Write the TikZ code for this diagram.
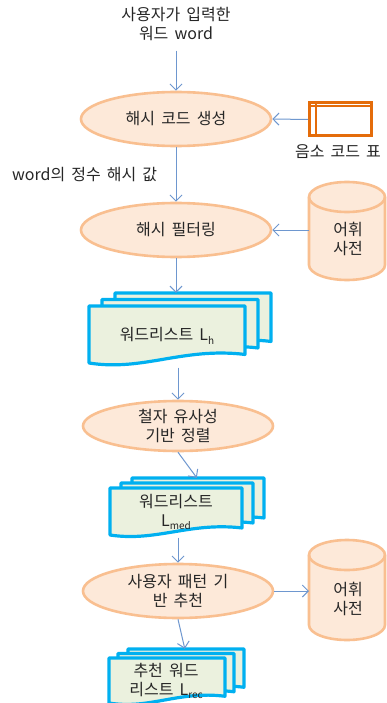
\documentclass[tikz,border=0pt]{standalone}
\usepackage{fontspec}
\setmainfont[WordSpace=1.7]{Noto Sans CJK KR}
\usetikzlibrary{shapes.geometric,arrows.meta,calc}
\definecolor{ellfill}{HTML}{FDE9D9}
\definecolor{elldraw}{HTML}{F9BF90}
\definecolor{docfill}{HTML}{EBF1DE}
\definecolor{docdraw}{HTML}{00B0F0}
\definecolor{arrowc}{HTML}{6E97CF}
\definecolor{tblc}{HTML}{E46C0A}
\definecolor{txtc}{HTML}{262626}
\newcommand{\docshp}[4]{% x1, ytop, w, h  (y-up, ytop negative)
  \path[docst] (#1,#2) -- ({#1+#3},#2) -- ({#1+#3},{#2-0.85*#4})
    .. controls ({#1+0.6*#3},{#2-0.72*#4}) and ({#1+0.35*#3},{#2-1.15*#4}) .. (#1,{#2-#4}) -- cycle;}
\newcommand{\cylshp}[4]{% x1, ytop, w, h
  \path[cylst] (#1,{#2-15}) -- (#1,{#2-#4+15})
    arc[start angle=180,end angle=360,x radius={#3/2*1pt},y radius=15pt]
    -- ({#1+#3},{#2-15})
    arc[start angle=0,end angle=180,x radius={#3/2*1pt},y radius=15pt] -- cycle;
  \draw[cylst,fill=none] (#1,{#2-15}) arc[start angle=180,end angle=360,x radius={#3/2*1pt},y radius=15pt];}
\tikzset{
  every node/.style={text=txtc,font=\fontsize{16}{18.5}\selectfont},
  proc/.style={ellipse,draw=elldraw,fill=ellfill,line width=2.6pt,minimum width=190pt,minimum height=54pt,inner sep=0pt,align=center},
  docst/.style={draw=docdraw,fill=docfill,line width=3.2pt,line join=round},
  cylst/.style={draw=elldraw,fill=ellfill,line width=2.6pt},
  conn/.style={draw=arrowc,line width=1pt,-{Straight Barb[length=6pt,width=12pt]}},
  lbl/.style={inner sep=0pt,align=center}
}
\begin{document}
\begin{tikzpicture}[x=1pt,y=1pt]
\useasboundingbox (0,0) rectangle (387,-703);
\fill[white] (0,0) rectangle (387,-703);

% top input text
\node[lbl] (input) at (176,-24) {사용자가 입력한\\워드 word};

% ellipse 1
\node[proc] (e1) at (176,-119) {해시 코드 생성};

% table icon
\node[draw=tblc,line width=3pt,fill=white,minimum width=62pt,minimum height=33pt,inner sep=0pt] (tbl) at (340.5,-119.5) {};
\draw[tblc,line width=1.8pt] ([yshift=-4.5pt]tbl.north west) -- ([yshift=-4.5pt]tbl.north east);
\draw[tblc,line width=1.8pt] ([xshift=8pt]tbl.north west) -- ([xshift=8pt]tbl.south west);
\node[lbl] (tbllbl) at (338,-152) {음소 코드 표};

\node[lbl,anchor=west] (hashlbl) at (12,-175) {word의 정수 해시 값};

% ellipse 2
\node[proc] (e2) at (176,-230) {해시 필터링};

% cylinder 1
\cylshp{309}{-182}{76}{98}
\node[lbl,minimum width=76pt,minimum height=60pt] (cyl1) at (348,-239) {어휘\\사전};
\coordinate (cyl1w) at (309,-230);

% doc stack 1
\docshp{115}{-293}{156}{57}
\docshp{102}{-299.5}{156}{57}
\docshp{89}{-306}{156}{57}
\node[inner sep=0pt,minimum width=156pt,minimum height=57pt] (d1) at (193,-321.5) {};
\node[lbl,minimum width=156pt,minimum height=57pt] (d1f) at (167,-336) {워드리스트 L\raisebox{-0.4ex}{\fontsize{10}{10}\selectfont h}};

% ellipse 3
\node[proc,minimum height=50pt] (e3) at (178,-426) {철자 유사성\\기반 정렬};

% doc stack 2
\docshp{132}{-478}{132}{47}
\docshp{121}{-483}{132}{47}
\docshp{110}{-488}{132}{47}
\node[inner sep=0pt,minimum width=132pt,minimum height=47pt] (d2) at (198,-501.5) {};
\node[lbl,minimum width=132pt,minimum height=47pt] (d2f) at (176,-512) {워드리스트\\L\raisebox{-0.4ex}{\fontsize{10}{10}\selectfont med}};

% ellipse 4
\node[proc] (e4) at (178,-591) {사용자 패턴 기\\반 추천};

% cylinder 2
\cylshp{309}{-540}{76}{100}
\node[lbl,minimum width=76pt,minimum height=60pt] (cyl2) at (348,-599) {어휘\\사전};
\coordinate (cyl2w) at (309,-591);

% doc stack 3
\docshp{128}{-649}{116}{45}
\docshp{118}{-653.5}{116}{45}
\docshp{109}{-658}{116}{45}
\node[inner sep=0pt,minimum width=116pt,minimum height=45pt] (d3) at (186,-671.5) {};
\node[lbl,minimum width=116pt,minimum height=45pt] (d3f) at (166,-681) {추천 워드\\리스트 L\raisebox{-0.4ex}{\fontsize{10}{10}\selectfont rec}};

% connectors
\draw[conn] ([yshift=-10pt]input.south) -- (e1.north);
\draw[conn] (tbl.west) -- (e1.east);
\draw[conn] (e1.south) -- (e2.north);
\draw[conn] (cyl1w) -- (e2.east);
\draw[conn] (e2.south) -- (e2.south |- d1.north);
\draw[conn] ([yshift=-3pt]e3.north |- d1f.south) -- (e3.north);
\draw[conn] (e3.south) -- ([xshift=65pt]d2.north west);
\draw[conn] ([yshift=-2pt]e4.north |- d2f.south) -- (e4.north);
\draw[conn] (e4.east) -- (cyl2w);
\draw[conn] (e4.south) -- ([xshift=57pt]d3.north west);
\end{tikzpicture}
\end{document}
